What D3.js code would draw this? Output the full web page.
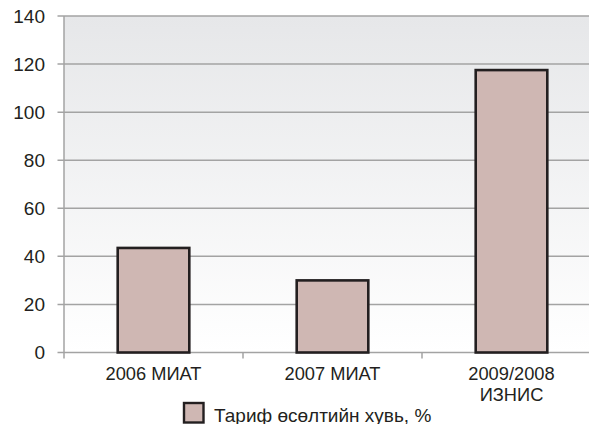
<!DOCTYPE html>
<html>
<head>
<meta charset="utf-8">
<script src="https://cdn.jsdelivr.net/npm/d3@7"></script>
<style>
  body { margin: 0; background: #fff; }
  svg { display: block; font-family: "Liberation Sans", Arial, sans-serif; }
</style>
</head>
<body>
<script>
const width = 589, height = 424;

const categories = ["2006 МИАТ", "2007 МИАТ", "2009/2008 ИЗНИС"];
const categoryLines = [["2006 МИАТ"], ["2007 МИАТ"], ["2009/2008", "ИЗНИС"]];
const values = [43.5, 30, 117.5];
const yTicks = [0, 20, 40, 60, 80, 100, 120, 140];
const seriesName = "Тариф өсөлтийн хувь, %";

const plotLeft = 64, plotTop = 16, plotBottom = 352.5, plotRight = 601;

const svg = d3.select("body").append("svg")
    .attr("width", width)
    .attr("height", height);

const x = d3.scaleBand()
    .domain(categories)
    .range([plotLeft, plotRight])
    .paddingInner(0.6)
    .paddingOuter(0.3);

const y = d3.scaleLinear()
    .domain([0, 140])
    .range([plotBottom, plotTop]);

// plot background gradient
const grad = svg.append("defs").append("linearGradient")
    .attr("id", "bg").attr("x1", 0).attr("y1", 0).attr("x2", 0).attr("y2", 1);
grad.append("stop").attr("offset", "0%").attr("stop-color", "#e6e7e9");
grad.append("stop").attr("offset", "100%").attr("stop-color", "#ffffff");

svg.append("rect")
    .attr("x", plotLeft).attr("y", plotTop)
    .attr("width", plotRight - plotLeft).attr("height", plotBottom - plotTop)
    .attr("fill", "url(#bg)");

// gridlines
svg.append("g")
    .selectAll("line")
    .data(yTicks)
    .join("line")
    .attr("x1", plotLeft - 6.5).attr("x2", plotRight)
    .attr("y1", d => y(d)).attr("y2", d => y(d))
    .attr("stroke", "#a3a3a3")
    .attr("stroke-width", 1.5);

// y axis line
svg.append("line")
    .attr("x1", plotLeft).attr("x2", plotLeft)
    .attr("y1", plotTop).attr("y2", plotBottom + 6)
    .attr("stroke", "#a3a3a3").attr("stroke-width", 1.5);

// x category ticks
svg.append("g")
    .selectAll("line")
    .data(categories.slice(1))
    .join("line")
    .attr("x1", d => x(d) - x.step() * x.paddingInner() / 2)
    .attr("x2", d => x(d) - x.step() * x.paddingInner() / 2)
    .attr("y1", plotBottom).attr("y2", plotBottom + 6)
    .attr("stroke", "#a3a3a3").attr("stroke-width", 1.5);

// y labels
svg.append("g")
    .selectAll("text")
    .data(yTicks)
    .join("text")
    .attr("x", plotLeft - 19)
    .attr("y", d => y(d))
    .attr("dy", "0.36em")
    .attr("text-anchor", "end")
    .attr("font-size", 19)
    .attr("fill", "#231f20")
    .text(d => d);

// bars
svg.append("g")
    .selectAll("rect")
    .data(values)
    .join("rect")
    .attr("x", (d, i) => x(categories[i]))
    .attr("y", d => y(d))
    .attr("width", x.bandwidth())
    .attr("height", d => y(0) - y(d))
    .attr("fill", "#cfb7b3")
    .attr("stroke", "#231f20")
    .attr("stroke-width", 2.6);

// x labels
const xl = svg.append("g")
    .selectAll("text")
    .data(categoryLines)
    .join("text")
    .attr("x", (d, i) => x(categories[i]) + x.bandwidth() / 2)
    .attr("y", 379.5)
    .attr("text-anchor", "middle")
    .attr("font-size", 18.3)
    .attr("fill", "#231f20");
xl.selectAll("tspan")
    .data(d => d)
    .join("tspan")
    .attr("x", function () { return this.parentNode.getAttribute("x"); })
    .attr("dy", (d, i) => i === 0 ? 0 : 21.5)
    .text(d => d);

// legend
svg.append("rect")
    .attr("x", 184).attr("y", 403)
    .attr("width", 19.5).attr("height", 19.5)
    .attr("fill", "#cfb7b3")
    .attr("stroke", "#231f20")
    .attr("stroke-width", 2.4);
svg.append("text")
    .attr("x", 214).attr("y", 421.5)
    .attr("font-size", 19)
    .attr("fill", "#231f20")
    .text(seriesName);
</script>
</body>
</html>
